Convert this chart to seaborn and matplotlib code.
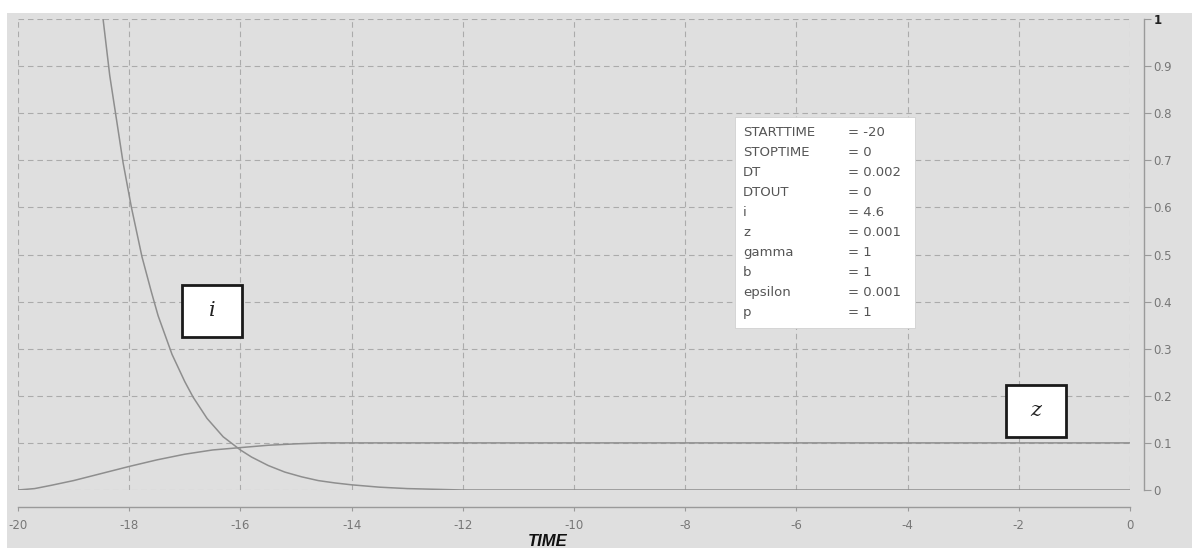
import numpy as np
import pandas as pd
import seaborn as sns
import matplotlib
matplotlib.use("Agg")
import matplotlib.pyplot as plt
from matplotlib.patches import Rectangle

# curve "i" (decays from the initial value 4.6, clipped at the top)
i_time = [-20.0, -19.5, -19.0, -18.47, -18.35, -18.22, -18.11, -17.96, -17.77, -17.6,
          -17.48, -17.23, -17.0, -16.85, -16.6, -16.31, -16.0, -15.8, -15.5, -15.2,
          -14.9, -14.6, -14.3, -14.0, -13.5, -13.0, -12.5, -12.0, -10.0, -5.0, 0.0]
i_value = [4.6, 2.8, 1.7, 1.0, 0.88, 0.78, 0.695, 0.6, 0.495, 0.42,
           0.37, 0.288, 0.23, 0.197, 0.152, 0.113, 0.085, 0.07, 0.052, 0.038,
           0.028, 0.02, 0.015, 0.011, 0.006, 0.003, 0.0015, 0.0, 0.0, 0.0, 0.0]

# curve "z"
z_time = [-20.0, -19.7, -19.4, -19.0, -18.5, -18.0, -17.5, -17.0, -16.5, -16.0,
          -15.5, -15.0, -14.5, -10.0, -5.0, 0.0]
z_value = [0.0, 0.003, 0.01, 0.02, 0.035, 0.05, 0.064, 0.076, 0.085, 0.09,
           0.095, 0.098, 0.1, 0.1, 0.1, 0.1]

x_ticks = [-20, -18, -16, -14, -12, -10, -8, -6, -4, -2, 0]
y_ticks = [0, 0.1, 0.2, 0.3, 0.4, 0.5, 0.6, 0.7, 0.8, 0.9, 1]
y_tick_labels = ["0", "0.1", "0.2", "0.3", "0.4", "0.5", "0.6", "0.7", "0.8", "0.9", "1"]

param_names = ["STARTTIME", "STOPTIME", "DT", "DTOUT", "i", "z", "gamma", "b", "epsilon", "p"]
param_values = ["= -20", "= 0", "= 0.002", "= 0", "= 4.6", "= 0.001", "= 1", "= 1", "= 0.001", "= 1"]

bg = "#dfdfdf"
grid_col = "#ababab"
curve_col = "#8e8e8e"
tick_col = "#777777"

sns.set_theme(style="white")
plt.rcParams["font.family"] = ["DejaVu Sans"]
plt.rcParams["axes.unicode_minus"] = False

W, H = 1192, 548
fig = plt.figure(figsize=(W / 100, H / 100), dpi=100, facecolor="white")
fig.add_artist(Rectangle((7 / W, 0), 1, 1 - 13 / H, transform=fig.transFigure,
                         facecolor=bg, edgecolor="none", zorder=-10))

ax = fig.add_axes([18 / W, 1 - 490 / H, 1112 / W, 471 / H])
ax.set_facecolor(bg)

df_i = pd.DataFrame({"time": i_time, "value": i_value})
df_z = pd.DataFrame({"time": z_time, "value": z_value})
sns.lineplot(data=df_i, x="time", y="value", ax=ax, color=curve_col, lw=1.1)
sns.lineplot(data=df_z, x="time", y="value", ax=ax, color=curve_col, lw=1.1)

ax.set_xlim(-20, 0)
ax.set_ylim(0, 1)
ax.set_xticks(x_ticks)
ax.set_yticks(y_ticks)
ax.set_yticklabels(y_tick_labels)
ax.set_xlabel("")
ax.set_ylabel("")

ax.grid(True, color=grid_col, linestyle=(0, (5, 3.5)), linewidth=0.8)
ax.set_axisbelow(True)

for s in ["left", "top"]:
    ax.spines[s].set_visible(False)
ax.spines["bottom"].set_position(("outward", 12))
ax.spines["right"].set_position(("outward", 10))
for s in ["bottom", "right"]:
    ax.spines[s].set_color("#9a9a9a")
    ax.spines[s].set_linewidth(1.0)

ax.yaxis.tick_right()
ax.tick_params(axis="y", which="both", right=True, left=False, length=5, width=0.8,
               color="#9a9a9a", labelcolor=tick_col, labelsize=8.5, pad=2)
ax.tick_params(axis="x", bottom=True, length=3, width=0.8, color="#9a9a9a",
               labelcolor=tick_col, labelsize=8.5, pad=6)
ax.get_yticklabels()[-1].set_color("#222222")
ax.get_yticklabels()[-1].set_fontweight("bold")

# parameter box
ax.add_patch(Rectangle((735, H - 328), 180, 211, transform=None,
                       facecolor="white", edgecolor="#d0d0d0", lw=0.6, zorder=5))
for k, (nm, vl) in enumerate(zip(param_names, param_values)):
    ypx = H - (132 + 20.1 * k)
    fig.text(743 / W, ypx / H, nm, fontsize=9.5, color="#555555", va="center", ha="left", zorder=6)
    fig.text(848 / W, ypx / H, vl, fontsize=9.5, color="#555555", va="center", ha="left", zorder=6)

# curve labels
for cx, cy, lab in [(212, 311, "i"), (1036, 411, "z")]:
    fig.add_artist(Rectangle(((cx - 30) / W, 1 - (cy + 26) / H), 60 / W, 52 / H,
                             transform=fig.transFigure, facecolor="white",
                             edgecolor="#1a1a1a", lw=2, zorder=5))
    fig.text(cx / W, 1 - cy / H, lab, fontsize=15, family="DejaVu Serif", style="italic",
             color="#222222", ha="center", va="center", zorder=6)

fig.text(548 / W, 1 - 541 / H, "TIME", fontsize=12, fontweight="heavy", style="italic",
         family=["Liberation Sans", "DejaVu Sans"], color="#111111", ha="center", va="center")

fig.savefig("out.png", dpi=100, facecolor="white")
